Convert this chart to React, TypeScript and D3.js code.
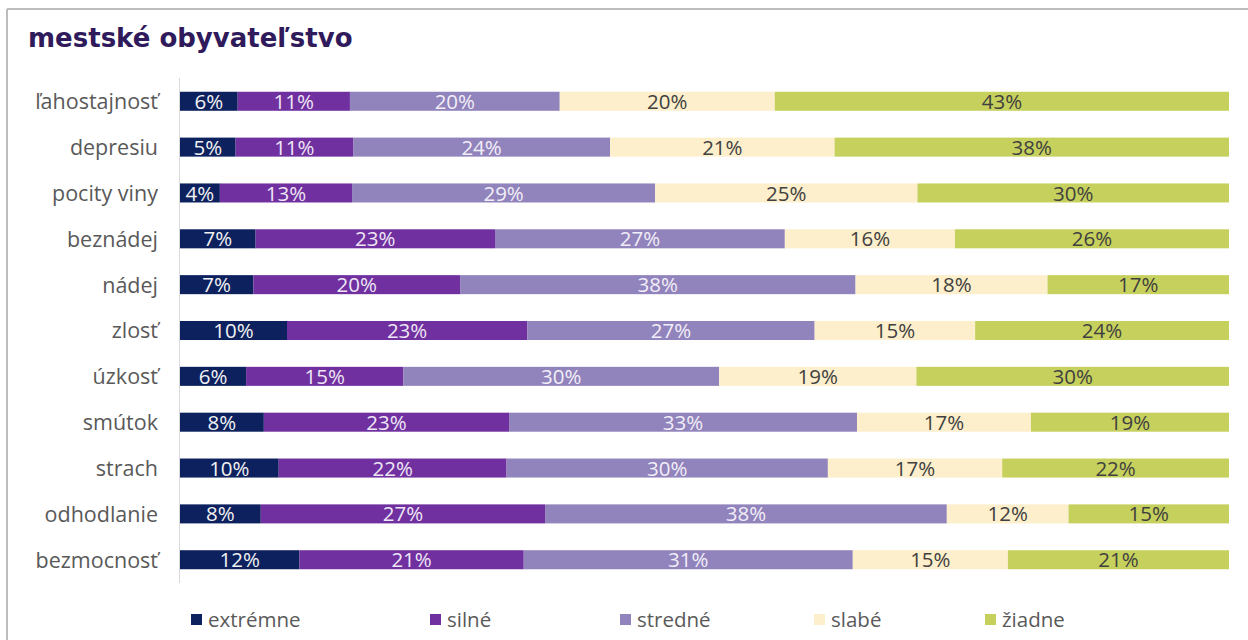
import React from "react";
import * as d3 from "d3";

const categories = [
  "ľahostajnosť", "depresiu", "pocity viny", "beznádej", "nádej", "zlosť",
  "úzkosť", "smútok", "strach", "odhodlanie", "bezmocnosť",
];
const seriesNames = ["extrémne", "silné", "stredné", "slabé", "žiadne"];
const seriesColors = ["#0c215e", "#7030a0", "#9183bb", "#fdefcb", "#c6d05c"];
const labelColors = ["#f2f2f2", "#eee6f5", "#f2eef8", "#404040", "#404040"];

// segment widths (percent)
const extremne = [5.5, 5.3, 3.8, 7.2, 7.0, 10.2, 6.3, 8.0, 9.4, 7.7, 11.4];
const silne = [10.7, 11.2, 12.6, 22.8, 19.7, 22.9, 15.0, 23.4, 21.7, 27.1, 21.4];
const stredne = [20.0, 24.5, 28.9, 27.6, 37.7, 27.4, 30.1, 33.2, 30.6, 38.3, 31.4];
const slabe = [20.5, 21.4, 25.0, 16.2, 18.3, 15.3, 18.8, 16.6, 16.6, 11.6, 14.8];
const ziadne = [43.3, 37.6, 29.7, 26.1, 17.3, 24.2, 29.8, 18.9, 21.6, 15.3, 21.1];

// printed data labels (percent)
const extremneLbl = [6, 5, 4, 7, 7, 10, 6, 8, 10, 8, 12];
const silneLbl = [11, 11, 13, 23, 20, 23, 15, 23, 22, 27, 21];
const stredneLbl = [20, 24, 29, 27, 38, 27, 30, 33, 30, 38, 31];
const slabeLbl = [20, 21, 25, 16, 18, 15, 19, 17, 17, 12, 15];
const ziadneLbl = [43, 38, 30, 26, 17, 24, 30, 19, 22, 15, 21];

const seriesValues = [extremne, silne, stredne, slabe, ziadne];
const seriesLabels = [extremneLbl, silneLbl, stredneLbl, slabeLbl, ziadneLbl];

const legendX = [191, 430, 620, 814, 985];

export default function App() {
  const W = 1248, H = 640;
  const x0 = 180, x1 = 1229;
  const font = "'Open Sans', Lato, sans-serif";

  const rows = categories.map((c, i) => {
    const vals = seriesValues.map((s) => s[i]);
    const total = d3.sum(vals);
    return { c, vals, total };
  });

  const y = d3.scaleBand<string>().domain(categories).range([78, 583]).paddingInner(0.585).paddingOuter(0.3);

  return (
    <svg width={W} height={H} style={{ position: "absolute", left: 0, top: 0, background: "#fff" }}>
      <line x1={7} y1={9} x2={W} y2={9} stroke="#bdbdbd" strokeWidth={2} />
      <line x1={7} y1={9} x2={7} y2={H} stroke="#bdbdbd" strokeWidth={2} />
      <text x={28} y={47} fontFamily="'DejaVu Sans', 'Open Sans', sans-serif" fontWeight={700} fontSize={26} fill="#2f1a5c">
        mestské obyvateľstvo
      </text>
      <line x1={179.5} y1={78} x2={179.5} y2={583} stroke="#d9d9d9" strokeWidth={1} />
      {rows.map((r, i) => {
        const xs = d3.scaleLinear().domain([0, r.total]).range([x0, x1]);
        const cum = d3.cumsum(r.vals);
        const by = y(r.c)!;
        const bh = y.bandwidth();
        return (
          <g key={r.c}>
            <text x={158} y={by + bh / 2} dy="0.37em" textAnchor="end" fontFamily={font} fontSize={21.5} fill="#595959">
              {r.c}
            </text>
            {r.vals.map((v, k) => {
              const a = xs(cum[k] - v);
              const b = xs(cum[k]);
              return (
                <g key={k}>
                  <rect x={a} y={by} width={b - a} height={bh} fill={seriesColors[k]} />
                  <text x={(a + b) / 2} y={by + bh / 2} dy="0.37em" textAnchor="middle" fontFamily={font} fontSize={20.5} fill={labelColors[k]}>
                    {seriesLabels[k][i]}%
                  </text>
                </g>
              );
            })}
          </g>
        );
      })}
      {seriesNames.map((n, k) => (
        <g key={n}>
          <rect x={legendX[k]} y={614} width={11} height={11} fill={seriesColors[k]} />
          <text x={legendX[k] + 17} y={619.5} dy="0.37em" fontFamily={font} fontSize={20.5} fill="#595959">
            {n}
          </text>
        </g>
      ))}
    </svg>
  );
}
